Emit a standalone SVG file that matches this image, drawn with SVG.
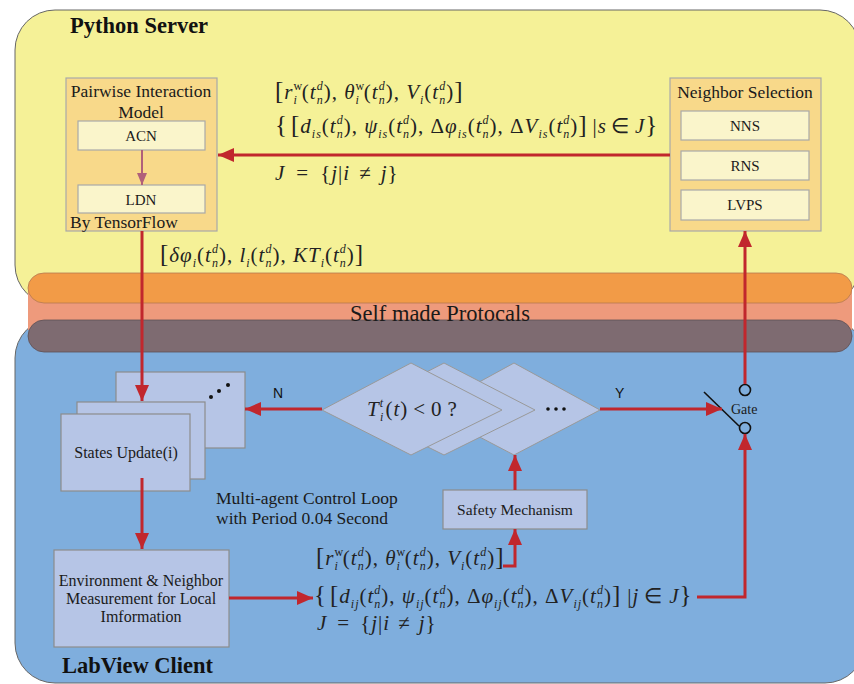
<svg xmlns="http://www.w3.org/2000/svg" width="854" height="684" viewBox="0 0 854 684">
<style>
.region{stroke:#666;stroke-width:1}
.outer{fill:#F8D98A;stroke:#A9A9A9;stroke-width:1.2}
.inner{fill:#FAF5CB;stroke:#A9A9A9;stroke-width:1.2}
.bluebox{fill:#B6C5E6;stroke:#8C8C8C;stroke-width:1.2}
.dia{fill:#B6C5E6;stroke:#999;stroke-width:1}
.t{font-family:"Liberation Serif","Times New Roman",serif;fill:#1a1a1a}
.l17{font-size:17.5px}
.l16{font-size:16px}
.l15{font-size:15px}
.title{font-family:"Liberation Serif","Times New Roman",serif;font-size:22.5px;font-weight:bold;fill:#111}
.m{font-family:"Liberation Serif","Times New Roman",serif;font-size:21px;letter-spacing:1px;fill:#222}
.it{font-style:italic}
.sc{font-size:12px}
.br{font-size:25px}
.yn{font-family:"Liberation Sans",Arial,sans-serif;font-size:14px;fill:#111}
.red{fill:none;stroke:#C1272D;stroke-width:3}
.mauve{fill:none;stroke:#B0607A;stroke-width:2}
</style>
<defs>
<marker id="ar" markerUnits="userSpaceOnUse" markerWidth="16" markerHeight="14" viewBox="0 0 16 14" refX="16" refY="7" orient="auto">
<path d="M0,0 L16,7 L0,14 z" fill="#C1272D"/>
</marker>
<marker id="am" markerUnits="userSpaceOnUse" markerWidth="12" markerHeight="10" viewBox="0 0 12 10" refX="12" refY="5" orient="auto">
<path d="M0,0 L12,5 L0,10 z" fill="#B0607A"/>
</marker>
</defs>

<g id="python-server">
<rect class="region" x="15" y="10" width="845" height="295" rx="40" fill="#F5F197"/>
<text class="title" x="70" y="33">Python Server</text>
</g>
<g id="labview-client">
<rect class="region" x="15" y="318" width="850" height="365" rx="40" fill="#7FAEDD"/>
<text class="title" x="62" y="673">LabView Client</text>
</g>
<g id="protocols">
<rect x="28" y="285" width="824" height="45" fill="#EE9A7C"/>
<rect x="28" y="273" width="824" height="30" rx="16" fill="#F29B47" stroke="#B57A50" stroke-width="0.8"/>
<rect x="28" y="320" width="824" height="32" rx="16" fill="#7E6B71" stroke="#5E5055" stroke-width="0.8"/>
<text class="t" x="440" y="321" font-size="22.5" text-anchor="middle">Self made Protocals</text>
</g>

<g id="pairwise-model">
<rect class="outer" x="66" y="78" width="151" height="153"/>
<text class="t l17" x="141" y="97" text-anchor="middle">Pairwise Interaction</text>
<text class="t l17" x="141" y="118" text-anchor="middle">Model</text>
<g id="acn"><rect class="inner" x="78" y="121" width="127" height="29"/><text class="t l15" x="141" y="141" text-anchor="middle">ACN</text></g>
<g id="ldn"><rect class="inner" x="78" y="185" width="127" height="28"/><text class="t l15" x="141" y="205" text-anchor="middle">LDN</text></g>
<text class="t l17" x="70" y="228">By TensorFlow</text>
</g>

<g id="neighbor-selection">
<rect class="outer" x="670" y="78" width="151" height="153"/>
<text class="t l17" x="745" y="98" text-anchor="middle">Neighbor Selection</text>
<g id="nns"><rect class="inner" x="681" y="111" width="128" height="29"/><text class="t l15" x="745" y="131" text-anchor="middle">NNS</text></g>
<g id="rns"><rect class="inner" x="681" y="151" width="128" height="29"/><text class="t l15" x="745" y="171" text-anchor="middle">RNS</text></g>
<g id="lvps"><rect class="inner" x="681" y="190" width="128" height="30"/><text class="t l15" x="745" y="210" text-anchor="middle">LVPS</text></g>
</g>

<g id="server-math">
<text class="m" x="275" y="99"><tspan class="br">[</tspan><tspan class="it">r</tspan><tspan class="sc" dy="-9">w</tspan><tspan class="sc it" dx="-9.7" dy="13.5">i</tspan><tspan dx="4" dy="-4.5">(</tspan><tspan class="it">t</tspan><tspan class="sc it" dy="-9">d</tspan><tspan class="sc it" dx="-7" dy="13.5">n</tspan><tspan dy="-4.5">), </tspan><tspan class="it">θ</tspan><tspan class="sc" dy="-9">w</tspan><tspan class="sc it" dx="-9.7" dy="13.5">i</tspan><tspan dx="4" dy="-4.5">(</tspan><tspan class="it">t</tspan><tspan class="sc it" dy="-9">d</tspan><tspan class="sc it" dx="-7" dy="13.5">n</tspan><tspan dy="-4.5">), </tspan><tspan class="it">V</tspan><tspan class="sc it" dy="4.5">i</tspan><tspan dy="-4.5">(</tspan><tspan class="it">t</tspan><tspan class="sc it" dy="-9">d</tspan><tspan class="sc it" dx="-7" dy="13.5">n</tspan><tspan dy="-4.5">)</tspan><tspan class="br">]</tspan></text>
<text class="m" x="275" y="133"><tspan class="br">{</tspan><tspan class="br" dx="3">[</tspan><tspan class="it">d</tspan><tspan class="sc it" dy="4.5">is</tspan><tspan dy="-4.5">(</tspan><tspan class="it">t</tspan><tspan class="sc it" dy="-9">d</tspan><tspan class="sc it" dx="-7" dy="13.5">n</tspan><tspan dy="-4.5">), </tspan><tspan class="it">ψ</tspan><tspan class="sc it" dy="4.5">is</tspan><tspan dy="-4.5">(</tspan><tspan class="it">t</tspan><tspan class="sc it" dy="-9">d</tspan><tspan class="sc it" dx="-7" dy="13.5">n</tspan><tspan dy="-4.5">), Δ</tspan><tspan class="it">φ</tspan><tspan class="sc it" dy="4.5">is</tspan><tspan dy="-4.5">(</tspan><tspan class="it">t</tspan><tspan class="sc it" dy="-9">d</tspan><tspan class="sc it" dx="-7" dy="13.5">n</tspan><tspan dy="-4.5">), Δ</tspan><tspan class="it">V</tspan><tspan class="sc it" dy="4.5">is</tspan><tspan dy="-4.5">(</tspan><tspan class="it">t</tspan><tspan class="sc it" dy="-9">d</tspan><tspan class="sc it" dx="-7" dy="13.5">n</tspan><tspan dy="-4.5">)</tspan><tspan class="br">]</tspan><tspan dx="5">|</tspan><tspan class="it">s</tspan><tspan dx="4">∈</tspan><tspan class="it" dx="5">J</tspan><tspan class="br">}</tspan></text>
<text class="m" x="275" y="180"><tspan class="it">J</tspan><tspan dx="11">=</tspan><tspan dx="11">{</tspan><tspan class="it">j</tspan>|<tspan class="it">i</tspan><tspan dx="9">≠</tspan><tspan class="it" dx="9">j</tspan>}</text>
</g>

<g id="output-math">
<text class="m" x="160" y="262"><tspan class="br">[</tspan><tspan class="it">δφ</tspan><tspan class="sc it" dy="4.5">i</tspan><tspan dy="-4.5">(</tspan><tspan class="it">t</tspan><tspan class="sc it" dy="-9">d</tspan><tspan class="sc it" dx="-7" dy="13.5">n</tspan><tspan dy="-4.5">), </tspan><tspan class="it">l</tspan><tspan class="sc it" dy="4.5">i</tspan><tspan dy="-4.5">(</tspan><tspan class="it">t</tspan><tspan class="sc it" dy="-9">d</tspan><tspan class="sc it" dx="-7" dy="13.5">n</tspan><tspan dy="-4.5">), </tspan><tspan class="it">KT</tspan><tspan class="sc it" dy="4.5">i</tspan><tspan dy="-4.5">(</tspan><tspan class="it">t</tspan><tspan class="sc it" dy="-9">d</tspan><tspan class="sc it" dx="-7" dy="13.5">n</tspan><tspan dy="-4.5">)</tspan><tspan class="br">]</tspan></text>
</g>

<g id="states-update">
<rect class="bluebox" x="116" y="372" width="129" height="76"/>
<circle cx="211" cy="397" r="2" fill="#111"/><circle cx="219" cy="391" r="2" fill="#111"/><circle cx="228" cy="385" r="2" fill="#111"/>
<rect class="bluebox" x="77" y="402" width="128" height="77"/>
<rect class="bluebox" x="61" y="414" width="129" height="77"/>
<text class="t l16" x="126" y="458" text-anchor="middle">States Update(i)</text>
</g>

<g id="decision">
<polygon class="dia" points="428,410 514,363 600,410 514,455"/>
<circle cx="548" cy="409" r="1.8" fill="#111"/><circle cx="556" cy="409" r="1.8" fill="#111"/><circle cx="564" cy="409" r="1.8" fill="#111"/>
<polygon class="dia" points="353,410 444,363 535,410 444,455"/>
<polygon class="dia" points="322,410 411,363 502,410 411,455"/>
<text class="m" x="367" y="416" font-size="19" letter-spacing="0.5"><tspan class="it">T</tspan><tspan class="sc it" dy="-9">t</tspan><tspan class="sc it" dx="-4" dy="13.5">i</tspan><tspan dx="1" dy="-4.5">(</tspan><tspan class="it">t</tspan>)<tspan dx="5">&lt;</tspan><tspan dx="5">0</tspan><tspan dx="5">?</tspan></text>
</g>

<g id="loop-label">
<text class="t l17" x="216" y="504">Multi-agent Control Loop</text>
<text class="t l17" x="216" y="524">with Period 0.04 Second</text>
</g>

<g id="safety">
<rect class="bluebox" x="443" y="490" width="144" height="39"/>
<text class="t" x="515" y="515" font-size="15.5" text-anchor="middle">Safety Mechanism</text>
</g>

<g id="env-measure">
<rect class="bluebox" x="54" y="550" width="175" height="97"/>
<text class="t l16" x="141" y="586" text-anchor="middle">Environment &amp; Neighbor</text>
<text class="t l16" x="141" y="604" text-anchor="middle">Measurement for Local</text>
<text class="t l16" x="141" y="622" text-anchor="middle">Imformation</text>
</g>

<g id="client-math">
<text class="m" x="316" y="565"><tspan class="br">[</tspan><tspan class="it">r</tspan><tspan class="sc" dy="-9">w</tspan><tspan class="sc it" dx="-9.7" dy="13.5">i</tspan><tspan dx="4" dy="-4.5">(</tspan><tspan class="it">t</tspan><tspan class="sc it" dy="-9">d</tspan><tspan class="sc it" dx="-7" dy="13.5">n</tspan><tspan dy="-4.5">), </tspan><tspan class="it">θ</tspan><tspan class="sc" dy="-9">w</tspan><tspan class="sc it" dx="-9.7" dy="13.5">i</tspan><tspan dx="4" dy="-4.5">(</tspan><tspan class="it">t</tspan><tspan class="sc it" dy="-9">d</tspan><tspan class="sc it" dx="-7" dy="13.5">n</tspan><tspan dy="-4.5">), </tspan><tspan class="it">V</tspan><tspan class="sc it" dy="4.5">i</tspan><tspan dy="-4.5">(</tspan><tspan class="it">t</tspan><tspan class="sc it" dy="-9">d</tspan><tspan class="sc it" dx="-7" dy="13.5">n</tspan><tspan dy="-4.5">)</tspan><tspan class="br">]</tspan></text>
<text class="m" x="314" y="603"><tspan class="br">{</tspan><tspan class="br" dx="3">[</tspan><tspan class="it">d</tspan><tspan class="sc it" dy="4.5">ij</tspan><tspan dy="-4.5">(</tspan><tspan class="it">t</tspan><tspan class="sc it" dy="-9">d</tspan><tspan class="sc it" dx="-7" dy="13.5">n</tspan><tspan dy="-4.5">), </tspan><tspan class="it">ψ</tspan><tspan class="sc it" dy="4.5">ij</tspan><tspan dy="-4.5">(</tspan><tspan class="it">t</tspan><tspan class="sc it" dy="-9">d</tspan><tspan class="sc it" dx="-7" dy="13.5">n</tspan><tspan dy="-4.5">), Δ</tspan><tspan class="it">φ</tspan><tspan class="sc it" dy="4.5">ij</tspan><tspan dy="-4.5">(</tspan><tspan class="it">t</tspan><tspan class="sc it" dy="-9">d</tspan><tspan class="sc it" dx="-7" dy="13.5">n</tspan><tspan dy="-4.5">), Δ</tspan><tspan class="it">V</tspan><tspan class="sc it" dy="4.5">ij</tspan><tspan dy="-4.5">(</tspan><tspan class="it">t</tspan><tspan class="sc it" dy="-9">d</tspan><tspan class="sc it" dx="-7" dy="13.5">n</tspan><tspan dy="-4.5">)</tspan><tspan class="br">]</tspan><tspan dx="6">|</tspan><tspan class="it">j</tspan><tspan dx="5">∈</tspan><tspan class="it" dx="6">J</tspan><tspan class="br">}</tspan></text>
<text class="m" x="317" y="630"><tspan class="it">J</tspan><tspan dx="10">=</tspan><tspan dx="10">{</tspan><tspan class="it">j</tspan>|<tspan class="it">i</tspan><tspan dx="8">≠</tspan><tspan class="it" dx="8">j</tspan>}</text>
</g>

<g id="gate">
<circle cx="745" cy="390" r="5.5" fill="none" stroke="#111" stroke-width="1.6"/>
<circle cx="745" cy="428" r="5.5" fill="none" stroke="#111" stroke-width="1.6"/>
<line x1="704" y1="392" x2="739" y2="426" stroke="#111" stroke-width="1.6"/>
<text class="t" x="731" y="414" font-size="14">Gate</text>
</g>

<g id="connectors">
<line class="mauve" x1="142" y1="150" x2="142" y2="185" marker-end="url(#am)"/>
<line class="red" x1="670" y1="155" x2="218" y2="155" marker-end="url(#ar)"/>
<line class="red" x1="142" y1="231" x2="142" y2="401" marker-end="url(#ar)"/>
<line class="red" x1="322" y1="409" x2="245" y2="409" marker-end="url(#ar)"/>
<line class="red" x1="600" y1="409" x2="722" y2="409" marker-end="url(#ar)"/>
<line class="red" x1="142" y1="478" x2="142" y2="549" marker-end="url(#ar)"/>
<line class="red" x1="229" y1="598" x2="313" y2="598" marker-end="url(#ar)"/>
<polyline class="red" points="503,566 515,566 515,529" marker-end="url(#ar)"/>
<line class="red" x1="515" y1="490" x2="515" y2="455" marker-end="url(#ar)"/>
<polyline class="red" points="697,597 745,597 745,434" marker-end="url(#ar)"/>
<line class="red" x1="745" y1="384" x2="745" y2="231" marker-end="url(#ar)"/>
<text class="yn" x="273" y="398">N</text>
<text class="yn" x="615" y="398">Y</text>
</g>
</svg>
